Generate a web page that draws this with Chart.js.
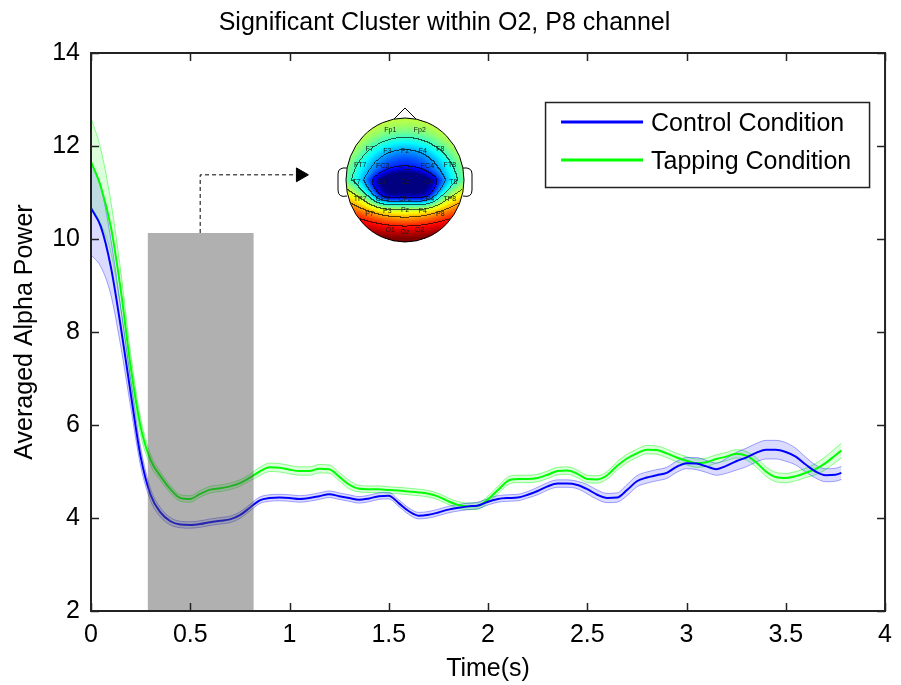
<!DOCTYPE html>
<html>
<head>
<meta charset="utf-8">
<script src="https://cdn.jsdelivr.net/npm/chart.js@4.4.1/dist/chart.umd.min.js"></script>
<style>
  html, body { margin: 0; padding: 0; background: #fff; }
  #wrap { width: 901px; height: 685px; }
</style>
</head>
<body>
<div id="wrap"><canvas id="chart" width="901" height="685"></canvas></div>
<script>
// time axis (seconds) and the two condition averages with their error band
const timeSec = [0, 0.05, 0.1, 0.15, 0.2, 0.25, 0.3, 0.35, 0.4, 0.45,
    0.5, 0.55, 0.6, 0.65, 0.7, 0.75, 0.8, 0.85, 0.9, 0.95,
    1, 1.05, 1.1, 1.15, 1.2, 1.25, 1.3, 1.35, 1.4, 1.45,
    1.5, 1.55, 1.6, 1.65, 1.7, 1.75, 1.8, 1.85, 1.9, 1.95,
    2, 2.05, 2.1, 2.15, 2.2, 2.25, 2.3, 2.35, 2.4, 2.45,
    2.5, 2.55, 2.6, 2.65, 2.7, 2.75, 2.8, 2.85, 2.9, 2.95,
    3, 3.05, 3.1, 3.15, 3.2, 3.25, 3.3, 3.35, 3.4, 3.45,
    3.5, 3.55, 3.6, 3.65, 3.7, 3.75, 3.78];

const controlMean = [10.66, 10.26, 9.40, 8.11, 6.68, 5.32, 4.50, 4.12, 3.93, 3.86,
    3.85, 3.87, 3.91, 3.94, 3.97, 4.06, 4.22, 4.38, 4.43, 4.44,
    4.43, 4.41, 4.43, 4.47, 4.51, 4.47, 4.43, 4.39, 4.42, 4.47,
    4.48, 4.32, 4.15, 4.05, 4.07, 4.12, 4.18, 4.22, 4.25, 4.27,
    4.35, 4.41, 4.43, 4.44, 4.50, 4.58, 4.68, 4.74, 4.74, 4.71,
    4.62, 4.50, 4.43, 4.44, 4.60, 4.79, 4.87, 4.92, 4.97, 5.10,
    5.18, 5.17, 5.11, 5.05, 5.12, 5.22, 5.30, 5.40, 5.47, 5.47,
    5.42, 5.32, 5.15, 5.00, 4.92, 4.93, 4.97];

const controlSem = [1.00, 0.86, 0.60, 0.42, 0.30, 0.20, 0.13, 0.10, 0.08, 0.07,
    0.07, 0.07, 0.07, 0.07, 0.07, 0.07, 0.07, 0.07, 0.07, 0.07,
    0.07, 0.07, 0.07, 0.07, 0.07, 0.07, 0.07, 0.07, 0.07, 0.07,
    0.07, 0.07, 0.07, 0.07, 0.07, 0.07, 0.07, 0.07, 0.07, 0.07,
    0.07, 0.07, 0.07, 0.07, 0.07, 0.08, 0.08, 0.08, 0.08, 0.08,
    0.10, 0.10, 0.10, 0.10, 0.12, 0.12, 0.12, 0.12, 0.12, 0.12,
    0.12, 0.13, 0.13, 0.13, 0.16, 0.19, 0.20, 0.20, 0.20, 0.20,
    0.20, 0.18, 0.16, 0.14, 0.14, 0.14, 0.14];

const tappingMean = [11.66, 11.12, 10.26, 8.90, 7.25, 5.96, 5.25, 4.90, 4.62, 4.43,
    4.41, 4.52, 4.61, 4.64, 4.68, 4.75, 4.87, 5.00, 5.09, 5.08,
    5.04, 5.01, 5.01, 5.06, 5.05, 4.89, 4.72, 4.63, 4.62, 4.62,
    4.60, 4.59, 4.57, 4.55, 4.52, 4.46, 4.36, 4.28, 4.25, 4.26,
    4.40, 4.60, 4.80, 4.84, 4.84, 4.86, 4.93, 5.01, 5.02, 4.95,
    4.84, 4.83, 4.92, 5.12, 5.28, 5.39, 5.47, 5.46, 5.39, 5.30,
    5.23, 5.18, 5.20, 5.27, 5.32, 5.38, 5.34, 5.20, 5.00, 4.88,
    4.86, 4.90, 4.97, 5.05, 5.18, 5.35, 5.45];

const tappingSem = [0.95, 0.80, 0.55, 0.40, 0.28, 0.18, 0.12, 0.09, 0.08, 0.07,
    0.07, 0.07, 0.07, 0.07, 0.07, 0.07, 0.07, 0.09, 0.09, 0.09,
    0.09, 0.09, 0.09, 0.09, 0.09, 0.09, 0.09, 0.07, 0.07, 0.07,
    0.07, 0.07, 0.07, 0.07, 0.07, 0.07, 0.07, 0.07, 0.07, 0.07,
    0.07, 0.08, 0.08, 0.08, 0.08, 0.08, 0.08, 0.08, 0.08, 0.08,
    0.08, 0.08, 0.08, 0.09, 0.09, 0.09, 0.09, 0.09, 0.09, 0.09,
    0.09, 0.09, 0.09, 0.09, 0.09, 0.09, 0.09, 0.10, 0.10, 0.10,
    0.10, 0.10, 0.10, 0.12, 0.14, 0.15, 0.16];

// significant cluster window and the pointer to the scalp map
const clusterWindow = [0.285, 0.82];
const clusterTop = 10.13;
const pointerX = [0.55, 0.55, 1.055];
const pointerY = [10.13, 11.38, 11.38];

const xTickValues = [0, 0.5, 1, 1.5, 2, 2.5, 3, 3.5, 4];
const yTickValues = [2, 4, 6, 8, 10, 12, 14];

const seriesNames = ["Control Condition", "Tapping Condition"];
const electrodes = ["Fp1", "Fp2", "F7", "F3", "Fz", "F4", "F8", "FT7", "FC3", "FCz", "FC4", "FT8",
    "T7", "C3", "Cz", "C4", "T8", "TP7", "CP3", "CPz", "CP4", "TP8",
    "P7", "P3", "Pz", "P4", "P8", "O1", "Oz", "O2"];

const FONT = "'Liberation Sans', Arial, Helvetica, sans-serif";
Chart.defaults.font.family = FONT;
Chart.defaults.font.size = 25;
Chart.defaults.color = "#000";

const pts = (xs, ys) => xs.map((x, i) => ({ x: x, y: ys[i] }));

// inward ticks and a closed box, MATLAB style
const matlabAxes = {
    id: "matlabAxes",
    afterDatasetsDraw(chart) {
        const { ctx, chartArea: a, scales } = chart;
        const len = 8;
        ctx.save();
        ctx.strokeStyle = "#222";
        ctx.lineWidth = 1.5;
        ctx.beginPath();
        xTickValues.forEach(v => {
            const px = Math.round(scales.x.getPixelForValue(v)) + 0.5;
            ctx.moveTo(px, a.bottom); ctx.lineTo(px, a.bottom - len);
            ctx.moveTo(px, a.top); ctx.lineTo(px, a.top + len);
        });
        yTickValues.forEach(v => {
            const py = Math.round(scales.y.getPixelForValue(v)) + 0.5;
            ctx.moveTo(a.left, py); ctx.lineTo(a.left + len, py);
            ctx.moveTo(a.right, py); ctx.lineTo(a.right - len, py);
        });
        ctx.stroke();
        ctx.lineWidth = 2;
        ctx.strokeRect(a.left, a.top, a.right - a.left, a.bottom - a.top);
        ctx.restore();
    }
};

// legend with a frame inside the axes
const boxedLegend = {
    id: "boxedLegend",
    afterDraw(chart) {
        const { ctx, chartArea: a } = chart;
        const ds = chart.data.datasets;
        const entries = ds.filter(d => seriesNames.includes(d.label))
            .sort((p, q) => seriesNames.indexOf(p.label) - seriesNames.indexOf(q.label));
        const x0 = a.right - 340, y0 = a.top + 49, w = 324, h = 85;
        ctx.save();
        ctx.fillStyle = "#fff";
        ctx.fillRect(x0, y0, w, h);
        ctx.strokeStyle = "#222";
        ctx.lineWidth = 1.5;
        ctx.strokeRect(x0 + 0.5, y0 + 0.5, w, h);
        ctx.font = "25px " + FONT;
        ctx.textBaseline = "middle";
        ctx.fillStyle = "#000";
        entries.forEach((d, i) => {
            const ly = y0 + 20 + i * 38;
            ctx.strokeStyle = d.borderColor;
            ctx.lineWidth = 3;
            ctx.beginPath();
            ctx.moveTo(x0 + 16, ly);
            ctx.lineTo(x0 + 98, ly);
            ctx.stroke();
            ctx.fillText(d.label, x0 + 106, ly + 2);
        });
        ctx.restore();
    }
};

// jet-coloured scalp map inset
function jet(f) {
    f = Math.max(0, Math.min(1, f));
    const cl = t => Math.round(255 * Math.max(0, Math.min(1, t)));
    return [cl(1.5 - Math.abs(4 * f - 3)), cl(1.5 - Math.abs(4 * f - 2)), cl(1.5 - Math.abs(4 * f - 1))];
}
function scalpField(u, v) {
    let f = v < 0 ? 0.42 - v * 0.15 : 0.42 + v * 0.62;
    f += 0.1 * u * u;
    f -= 0.3 * Math.exp(-Math.pow((u / 0.8) ** 2 + ((v + 0.05) / 0.6) ** 2, 1.5));
    f -= 0.25 * Math.exp(-Math.pow((u / 0.6) ** 2 + ((v - 0.1) / 0.25) ** 2, 2));
    f -= 0.12 * Math.exp(-(((u - 0.35) / 0.25) ** 2 + ((v - 0.3) / 0.15) ** 2));
    f -= 0.12 * Math.exp(-(((u + 0.35) / 0.25) ** 2 + ((v - 0.3) / 0.15) ** 2));
    return f;
}
let topoCache = null;
function buildTopo(rx, ry) {
    const w = rx * 2 + 2, h = ry * 2 + 2;
    const c = document.createElement("canvas");
    c.width = w; c.height = h;
    const g = c.getContext("2d");
    const img = g.createImageData(w, h);
    const lvl = new Array(w * h).fill(-1);
    for (let y = 0; y < h; y++) {
        for (let x = 0; x < w; x++) {
            const u = (x - rx - 0.5) / rx, v = (y - ry - 0.5) / ry;
            if (u * u + v * v > 1) continue;
            const f = scalpField(u, v);
            lvl[y * w + x] = Math.floor(Math.max(0, Math.min(0.999, f)) * 7);
            const [r, gg, b] = jet(f);
            const k = (y * w + x) * 4;
            img.data[k] = r; img.data[k + 1] = gg; img.data[k + 2] = b; img.data[k + 3] = 255;
        }
    }
    for (let y = 0; y < h - 1; y++) {
        for (let x = 0; x < w - 1; x++) {
            const i = y * w + x;
            if (lvl[i] < 0 || lvl[i + 1] < 0 || lvl[i + w] < 0) continue;
            if (lvl[i] !== lvl[i + 1] || lvl[i] !== lvl[i + w]) {
                const k = i * 4;
                img.data[k] *= 0.35; img.data[k + 1] *= 0.35; img.data[k + 2] *= 0.35;
            }
        }
    }
    g.putImageData(img, 0, 0);
    return c;
}
const electrodePos = [[-0.25, -0.8], [0.25, -0.8], [-0.6, -0.5], [-0.3, -0.47], [0, -0.46], [0.3, -0.47], [0.6, -0.5],
    [-0.76, -0.24], [-0.38, -0.22], [0, -0.2], [0.38, -0.22], [0.76, -0.24],
    [-0.82, 0.03], [-0.4, 0.03], [0, 0.03], [0.4, 0.03], [0.82, 0.03],
    [-0.76, 0.3], [-0.38, 0.3], [0, 0.3], [0.38, 0.3], [0.76, 0.3],
    [-0.6, 0.55], [-0.3, 0.5], [0, 0.48], [0.3, 0.5], [0.6, 0.55],
    [-0.25, 0.8], [0, 0.84], [0.25, 0.8]];

const scalpInset = {
    id: "scalpInset",
    afterDatasetsDraw(chart) {
        const { ctx, chartArea: a } = chart;
        const cx = a.left + 314, cy = a.top + 127, rx = 59, ry = 62;
        if (!topoCache) topoCache = buildTopo(rx, ry);
        ctx.save();
        ctx.drawImage(topoCache, cx - rx - 1, cy - ry - 1);
        ctx.strokeStyle = "#000";
        ctx.lineWidth = 1;
        ctx.beginPath();
        ctx.ellipse(cx, cy, rx, ry, 0, 0, Math.PI * 2);
        ctx.stroke();
        // nose
        ctx.beginPath();
        ctx.moveTo(cx - 11, cy - ry + 1);
        ctx.lineTo(cx, cy - ry - 10);
        ctx.lineTo(cx + 11, cy - ry + 1);
        ctx.stroke();
        // ears
        [-1, 1].forEach(s => {
            ctx.beginPath();
            const ex = cx + s * (rx - 1);
            ctx.moveTo(ex, cy - 12);
            ctx.quadraticCurveTo(ex + s * 9, cy - 13, ex + s * 9, cy - 6);
            ctx.lineTo(ex + s * 9, cy + 10);
            ctx.quadraticCurveTo(ex + s * 9, cy + 18, ex, cy + 16);
            ctx.stroke();
        });
        ctx.font = "7px " + FONT;
        ctx.fillStyle = "#1a1a1a";
        ctx.textAlign = "center";
        ctx.textBaseline = "middle";
        electrodes.forEach((name, i) => {
            const [u, v] = electrodePos[i];
            ctx.fillText(name, cx + u * rx, cy + v * ry);
        });
        ctx.restore();
    }
};

const band = (mean, sem, sign) => mean.map((m, i) => +(m + sign * sem[i]).toFixed(3));

const curve = { pointRadius: 0, cubicInterpolationMode: "monotone" };

new Chart(document.getElementById("chart"), {
    type: "line",
    data: {
        datasets: [
            {
                label: "cluster",
                data: pts(clusterWindow, [clusterTop, clusterTop]),
                borderWidth: 0,
                pointRadius: 0,
                tension: 0,
                backgroundColor: "rgba(80,80,80,0.45)",
                fill: "start",
                order: 0
            },
            {
                label: "pointer",
                data: pts(pointerX, pointerY),
                borderColor: "#000",
                borderWidth: 1,
                borderDash: [4, 3],
                tension: 0,
                fill: false,
                pointStyle: "triangle",
                pointRotation: 90,
                pointRadius: c => (c.dataIndex === pointerX.length - 1 ? 8 : 0),
                pointBackgroundColor: "#000",
                pointBorderColor: "#000",
                order: 0
            },
            {
                ...curve,
                label: seriesNames[0],
                data: pts(timeSec, controlMean),
                borderColor: "#0000ff",
                borderWidth: 2,
                fill: false,
                order: 1
            },
            {
                ...curve,
                label: seriesNames[1],
                data: pts(timeSec, tappingMean),
                borderColor: "#00ff00",
                borderWidth: 2,
                fill: false,
                order: 2
            },
            {
                ...curve,
                label: "control upper",
                data: pts(timeSec, band(controlMean, controlSem, 1)),
                borderColor: "rgba(0,0,255,0.35)",
                backgroundColor: "rgba(0,0,255,0.14)",
                borderWidth: 1,
                fill: "+1",
                order: 3
            },
            {
                ...curve,
                label: "control lower",
                data: pts(timeSec, band(controlMean, controlSem, -1)),
                borderColor: "rgba(0,0,255,0.35)",
                borderWidth: 1,
                fill: false,
                order: 3
            },
            {
                ...curve,
                label: "tapping upper",
                data: pts(timeSec, band(tappingMean, tappingSem, 1)),
                borderColor: "rgba(0,255,0,0.45)",
                backgroundColor: "rgba(0,255,0,0.14)",
                borderWidth: 1,
                fill: "+1",
                order: 4
            },
            {
                ...curve,
                label: "tapping lower",
                data: pts(timeSec, band(tappingMean, tappingSem, -1)),
                borderColor: "rgba(0,255,0,0.45)",
                borderWidth: 1,
                fill: false,
                order: 4
            }
        ]
    },
    options: {
        responsive: false,
        animation: false,
        devicePixelRatio: 1,
        layout: { padding: { left: 0, right: 12, top: 0, bottom: 0 } },
        plugins: {
            legend: { display: false },
            tooltip: { enabled: false },
            title: {
                display: true,
                text: "Significant Cluster within O2, P8 channel",
                color: "#000",
                font: { size: 25, weight: "normal" },
                padding: { top: 8, bottom: 15 }
            }
        },
        scales: {
            x: {
                type: "linear",
                min: 0,
                max: 4,
                afterBuildTicks: s => { s.ticks = xTickValues.map(v => ({ value: v })); },
                afterFit: s => { s.height = 74; },
                grid: { display: false, drawTicks: false },
                border: { display: false },
                ticks: { padding: 9, color: "#000", callback: v => String(v), maxRotation: 0 },
                title: { display: true, text: "Time(s)", color: "#000", padding: { top: 0, bottom: 1 } }
            },
            y: {
                type: "linear",
                min: 2,
                max: 14,
                afterBuildTicks: s => { s.ticks = yTickValues.map(v => ({ value: v })); },
                afterFit: s => { s.width = 91; },
                grid: { display: false, drawTicks: false },
                border: { display: false },
                ticks: { padding: 11, color: "#000", callback: v => String(v) },
                title: { display: true, text: "Averaged Alpha Power", color: "#000", padding: { top: 10, bottom: 0 } }
            }
        }
    },
    plugins: [matlabAxes, scalpInset, boxedLegend]
});
</script>
</body>
</html>
